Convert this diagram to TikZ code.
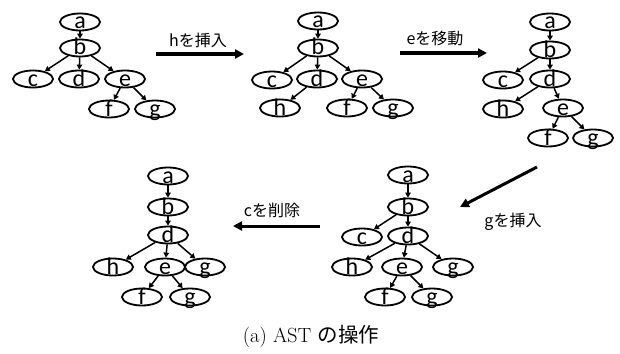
\documentclass[tikz,border=0pt]{standalone}
\usepackage{fontspec}
\newfontfamily\treefont{Carlito}
\newfontfamily\jpfont{Noto Sans CJK JP}
\usetikzlibrary{arrows.meta,shapes.geometric}

% letter inside a fixed-size ellipse, sitting on its lower edge
\newcommand{\tlbl}[1]{\smash{\raisebox{-7pt}{#1}}}

\begin{document}
\begin{tikzpicture}[x=1pt,y=-1pt,
  tn/.style={draw,ellipse,line width=1.8pt,minimum width=40pt,minimum height=17pt,inner sep=0pt,font=\treefont\fontsize{24}{24}\selectfont},
  edge/.style={-{Triangle[length=5pt,width=5.5pt]},line width=1.5pt},
  op/.style={-{Triangle[length=9pt,width=9pt]},line width=3pt},
  oplbl/.style={font=\jpfont\fontsize{16}{16}\selectfont}]
\useasboundingbox (0,0) rectangle (620,353);

% before
\node[tn] (a1) at (80,22) {\tlbl{a}};
\node[tn] (b1) at (80,48) {\tlbl{b}};
\node[tn] (c1) at (33,79) {\tlbl{c}};
\node[tn] (d1) at (79,79) {\tlbl{d}};
\node[tn] (e1) at (125,79) {\tlbl{e}};
\node[tn] (f1) at (109,109) {\tlbl{f}};
\node[tn] (g1) at (155,109) {\tlbl{g}};
\foreach \u/\v in {a1/b1,b1/c1,b1/d1,b1/e1,e1/f1,e1/g1} \draw[edge] (\u) -- (\v);

% h inserted under d
\node[tn] (a2) at (318,21) {\tlbl{a}};
\node[tn] (b2) at (318,48) {\tlbl{b}};
\node[tn] (c2) at (272,80) {\tlbl{c}};
\node[tn] (d2) at (317,79) {\tlbl{d}};
\node[tn] (e2) at (362,79) {\tlbl{e}};
\node[tn] (h2) at (280,108) {\tlbl{h}};
\node[tn] (f2) at (347,108) {\tlbl{f}};
\node[tn] (g2) at (393,108) {\tlbl{g}};
\foreach \u/\v in {a2/b2,b2/c2,b2/d2,b2/e2,d2/h2,e2/f2,e2/g2} \draw[edge] (\u) -- (\v);

% e moved under d
\node[tn] (a3) at (550,22) {\tlbl{a}};
\node[tn] (b3) at (550,50) {\tlbl{b}};
\node[tn] (c3) at (503,80) {\tlbl{c}};
\node[tn] (d3) at (550,79) {\tlbl{d}};
\node[tn] (h3) at (503,109) {\tlbl{h}};
\node[tn] (e3) at (563,108) {\tlbl{e}};
\node[tn] (f3) at (548,138) {\tlbl{f}};
\node[tn] (g3) at (593,138) {\tlbl{g}};
\foreach \u/\v in {a3/b3,b3/c3,b3/d3,d3/h3,d3/e3,e3/f3,e3/g3} \draw[edge] (\u) -- (\v);

% g inserted under d
\node[tn] (a4) at (408,175) {\tlbl{a}};
\node[tn] (b4) at (408,207) {\tlbl{b}};
\node[tn] (c4) at (362,237) {\tlbl{c}};
\node[tn] (d4) at (408,236) {\tlbl{d}};
\node[tn] (h4) at (352,267) {\tlbl{h}};
\node[tn] (e4) at (402,267) {\tlbl{e}};
\node[tn] (g4) at (453,267) {\tlbl{g}};
\node[tn] (f4) at (385,297) {\tlbl{f}};
\node[tn] (gg4) at (432,297) {\tlbl{g}};
\foreach \u/\v in {a4/b4,b4/c4,b4/d4,d4/h4,d4/e4,d4/g4,e4/f4,e4/gg4} \draw[edge] (\u) -- (\v);

% c deleted
\node[tn] (a5) at (168,176) {\tlbl{a}};
\node[tn] (b5) at (168,207) {\tlbl{b}};
\node[tn] (d5) at (168,235) {\tlbl{d}};
\node[tn] (h5) at (113,267) {\tlbl{h}};
\node[tn] (e5) at (165,267) {\tlbl{e}};
\node[tn] (g5) at (205,267) {\tlbl{g}};
\node[tn] (f5) at (142,297) {\tlbl{f}};
\node[tn] (gg5) at (190,297) {\tlbl{g}};
\foreach \u/\v in {a5/b5,b5/d5,d5/h5,d5/e5,d5/g5,e5/f5,e5/gg5} \draw[edge] (\u) -- (\v);

% operations
\coordinate (s1) at (156,54);  \coordinate (t1) at (244,54);
\coordinate (s2) at (400,53);  \coordinate (t2) at (487,53);
\coordinate (s3) at (537,167); \coordinate (t3) at (460,207);
\coordinate (s4) at (320,226); \coordinate (t4) at (233,226);
\draw[op] (s1) -- (t1);
\draw[op] (s2) -- (t2);
\draw[op] (s3) -- (t3);
\draw[op] (s4) -- (t4);
\node[oplbl] (l1) at (198,40) {hを挿入};
\node[oplbl] (l2) at (435,38) {eを移動};
\node[oplbl] (l3) at (513,222) {gを挿入};
\node[oplbl] (l4) at (272,210) {cを削除};

\node[font=\fontsize{20.5}{24}\selectfont] (cap) at (311,336) {(a) AST {\jpfont の操作}};
\end{tikzpicture}
\end{document}
